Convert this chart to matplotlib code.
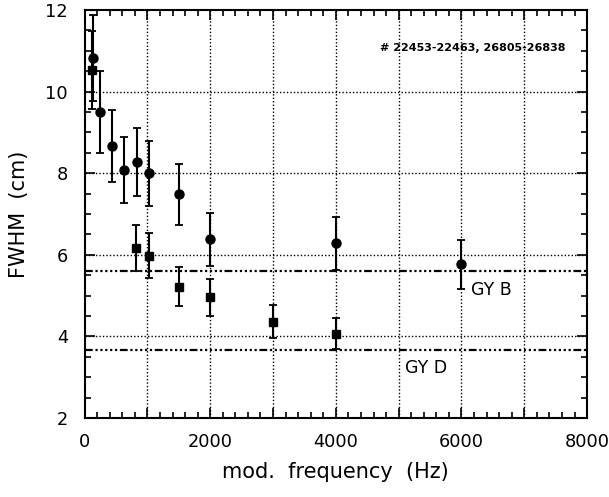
import matplotlib
matplotlib.use("Agg")
import matplotlib.pyplot as plt
from matplotlib.ticker import MultipleLocator, FuncFormatter

plt.rcParams['font.family'] = ['DejaVu Sans']

# Series "circles"
circ_x = [130, 250, 430, 620, 840, 1030, 1500, 2000, 4000, 6000]
circ_y = [10.83, 9.50, 8.67, 8.08, 8.28, 8.00, 7.48, 6.38, 6.28, 5.77]
circ_err = [1.05, 1.00, 0.88, 0.80, 0.83, 0.80, 0.75, 0.65, 0.65, 0.60]

# Series "squares"
sq_x = [115, 820, 1020, 1500, 2000, 3000, 4000]
sq_y = [10.53, 6.17, 5.98, 5.22, 4.96, 4.36, 4.06]
sq_err = [0.95, 0.57, 0.55, 0.48, 0.45, 0.40, 0.38]

# Reference levels
gyb_level = 5.6
gyd_level = 3.67

title_text = "# 22453-22463, 26805-26838"
xlabel = "mod.  frequency  (Hz)"
ylabel = "FWHM  (cm)"

fig = plt.figure(figsize=(6.09, 4.97), dpi=100)
ax = fig.add_axes([0.139, 0.159, 0.825, 0.821])

ax.set_xlim(0, 8000)
ax.set_ylim(2, 12)

# grid lines
for gx in range(1000, 8000, 1000):
    ax.axvline(gx, color='black', lw=1.0, ls=(0, (1, 1.5)), zorder=1)
for gy in [4, 6, 8, 10]:
    ax.axhline(gy, color='black', lw=1.0, ls=(0, (1, 1.5)), zorder=1)

# reference lines
for lev in [gyb_level, gyd_level]:
    ax.axhline(lev, color='black', lw=1.6,
               ls=(0, (3.5, 1.2, 1, 1.2, 1, 1.2, 1, 1.2, 1, 1.2, 1, 1.2)), zorder=1)

ax.errorbar(circ_x, circ_y, yerr=circ_err, fmt='o', color='black', ms=6.5,
            capsize=3, elinewidth=1.5, capthick=1.3, zorder=3)
ax.errorbar(sq_x, sq_y, yerr=sq_err, fmt='s', color='black', ms=6.3,
            capsize=3, elinewidth=1.5, capthick=1.3, zorder=3)

ax.text(7650, 11.07, title_text, ha='right', va='center', fontsize=8,
        fontweight='bold')
ax.text(6150, 5.14, "GY B", ha='left', va='center', fontsize=12.5)
ax.text(5100, 3.23, "GY D", ha='left', va='center', fontsize=12.5)

ax.xaxis.set_major_locator(MultipleLocator(1000))
ax.xaxis.set_minor_locator(MultipleLocator(200))
ax.xaxis.set_major_formatter(FuncFormatter(lambda v, p: f"{int(v)}" if int(v) % 2000 == 0 else ""))
ax.yaxis.set_major_locator(MultipleLocator(2))
ax.yaxis.set_minor_locator(MultipleLocator(0.5))

ax.tick_params(which='both', direction='in', top=True, right=True, width=1.2,
               labelsize=12.8)
ax.tick_params(which='major', length=7)
ax.tick_params(axis='x', which='major', pad=11)
ax.tick_params(axis='y', which='major', pad=12)
ax.tick_params(which='minor', length=4)
for s in ax.spines.values():
    s.set_linewidth(1.5)

ax.set_xlabel(xlabel, fontsize=15, labelpad=8)
ax.set_ylabel(ylabel, fontsize=15, labelpad=12)

fig.savefig("out.png", dpi=100)
